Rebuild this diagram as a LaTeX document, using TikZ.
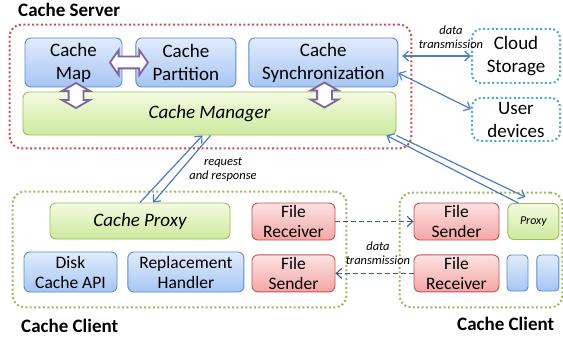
\documentclass[tikz,border=0pt]{standalone}
\usepackage{fontspec}
\setmainfont{Carlito}
\usetikzlibrary{arrows.meta, calc, fit, positioning, shapes.arrows}

\definecolor{bluetop}{HTML}{E1ECFC}
\definecolor{bluebot}{HTML}{A6C5F3}
\definecolor{blueline}{HTML}{5B8AD0}
\definecolor{greentop}{HTML}{F4FBE2}
\definecolor{greenbot}{HTML}{CDE99C}
\definecolor{greenline}{HTML}{9BBB59}
\definecolor{redtop}{HTML}{FDE2E2}
\definecolor{redbot}{HTML}{F4A5A5}
\definecolor{redline}{HTML}{C8504D}
\definecolor{cyanline}{HTML}{4BACC6}
\definecolor{linkblue}{HTML}{4A7EC2}
\definecolor{dashblue}{HTML}{3E5C82}
\definecolor{arrowpurple}{HTML}{8064A2}

\begin{document}
\begin{tikzpicture}[
  x=1pt, y=-1pt,
  font=\fontsize{19}{23}\selectfont,
  >={Straight Barb[length=5.5pt, width=10pt]},
  box/.style={draw, rounded corners=6pt, align=center, inner sep=0pt, line width=0.9pt},
  bluebox/.style={box, draw=blueline, top color=bluetop, bottom color=bluebot},
  greenbox/.style={box, draw=greenline, top color=greentop, bottom color=greenbot, font=\fontsize{19}{23}\selectfont\itshape},
  redbox/.style={box, draw=redline, top color=redtop, bottom color=redbot},
  small/.style={font=\fontsize{17.5}{20}\selectfont},
  group/.style={draw, rounded corners=12pt, line width=2pt, dash pattern=on 2pt off 2.4pt, inner sep=0pt},
  cloudbox/.style={group, draw=cyanline, align=center, rounded corners=9pt},
  title/.style={font=\fontsize{19}{23}\selectfont\bfseries, anchor=base west, inner sep=0pt},
  note/.style={font=\fontsize{12.5}{14}\selectfont\itshape, align=center, inner sep=0pt},
  link/.style={draw=linkblue, line width=1.2pt},
  dlink/.style={draw=dashblue, line width=1.1pt, dash pattern=on 5pt off 3pt},
  swap/.style={double arrow, draw=arrowpurple, fill=white, line width=1.8pt, inner sep=5pt, double arrow head extend=6.5pt}
]
\useasboundingbox (0,0) rectangle (563,337);

% Cache server
\node[bluebox, minimum width=97pt, minimum height=49pt] (map) at (73.5,62.5) {Cache\\Map};
\node[bluebox, minimum width=100pt, minimum height=49pt, right=13pt of map] (part) {Cache\\Partition};
\node[bluebox, minimum width=149pt, minimum height=49pt, right=12pt of part] (sync) {Cache\\Synchronization};
\node[greenbox, minimum width=373pt, minimum height=43pt] (manager) at (209.5,113.5) {Cache Manager};

% Swap arrows
\node[swap, minimum height=38pt, double arrow tip angle=110] (map_part) at ($(map.east)!.5!(part.west)$) {};
\node[swap, minimum height=25pt, inner sep=6.5pt, double arrow tip angle=120, rotate=90] (map_mgr) at (76,95.5) {};
\node[swap, minimum height=25pt, inner sep=6.5pt, double arrow tip angle=120, rotate=90] (sync_mgr) at (324.5,95) {};

% Outside
\node[cloudbox, minimum width=88pt, minimum height=54pt] (cloud) at (516,56) {Cloud\\Storage};
\node[cloudbox, minimum width=88pt, minimum height=43pt, below=13pt of cloud] (user) {User\\devices};

% Cache client (left)
\node[greenbox, minimum width=180pt, minimum height=36pt] (proxy) at (140,221) {Cache Proxy};
\node[bluebox, small, minimum width=93pt, minimum height=40pt] (disk) at (70.5,272) {Disk\\Cache API};
\node[bluebox, small, minimum width=116pt, minimum height=40pt, right=10pt of disk] (repl) {Replacement\\Handler};
\node[redbox, small, minimum width=83pt, minimum height=37pt] (recvL) at (293.5,221.5) {File\\Receiver};
\node[redbox, small, minimum width=83pt, minimum height=37pt, below=14pt of recvL] (sendL) {File\\Sender};

% Cache client (right)
\node[redbox, small, minimum width=85pt, minimum height=37pt] (sendR) at (456.5,221.5) {File\\Sender};
\node[redbox, small, minimum width=85pt, minimum height=37pt, below=14pt of sendR] (recvR) {File\\Receiver};
\node[greenbox, font=\fontsize{12}{14}\selectfont\itshape, minimum width=51pt, minimum height=36pt, right=8pt of sendR] (proxy2) {Proxy};
\node[bluebox, rounded corners=4pt, minimum width=21pt, minimum height=36pt] (slotA) at (517.5,273) {};
\node[bluebox, rounded corners=4pt, minimum width=22pt, minimum height=36pt, right=8pt of slotA] (slotB) {};

% Groups
\node[group, draw=redline, fit=(map)(sync)(manager), inner sep=13pt] (server) {};
\node[group, draw=greenline, fit={(proxy)(recvL)(disk)([yshift=-4pt]disk.south)}, inner sep=11pt] (leftclient) {};
\node[group, draw=greenline, fit={([xshift=-14pt,yshift=10pt]sendR.north west) ([xshift=3pt,yshift=-16pt]slotB.south east)}] (rightclient) {};

% Titles
\node[title] (srvtitle) at (18,17) {Cache Server};
\node[title] (lefttitle) at (21,332) {Cache Client};
\node[title] (righttitle) at (457,330) {Cache Client};

% Arrows
\draw[link, <->, shorten <=4pt] (sync.east |- cloud.west) -- (cloud.west);
\draw[link, <->] ([yshift=-10.5pt]sync.east) -- ([yshift=10.5pt]user.west);
\draw[link, ->] (proxy.north) -- ([xshift=-7pt]manager.south);
\draw[link, ->] ([xshift=1pt]manager.south) -- ([xshift=13pt]proxy.north);
\draw[link, ->] ([xshift=-15pt]proxy2.north) -- ([xshift=-10pt]manager.south east);
\draw[link, ->] (manager.south east) -- ([xshift=-8pt,yshift=6pt]proxy2.north);
\draw[dlink, ->] (recvL.east) -- (sendR.west);
\draw[dlink, ->] (recvR.west) -- (sendL.east);

% Labels
\node[note] (synclabel) at (451,37) {data\\transmission};
\node[note] (reqlabel) at (223,169.5) {request\\and response};
\node[note] (filelabel) at (378,253) {data\\transmission};

\end{tikzpicture}
\end{document}
